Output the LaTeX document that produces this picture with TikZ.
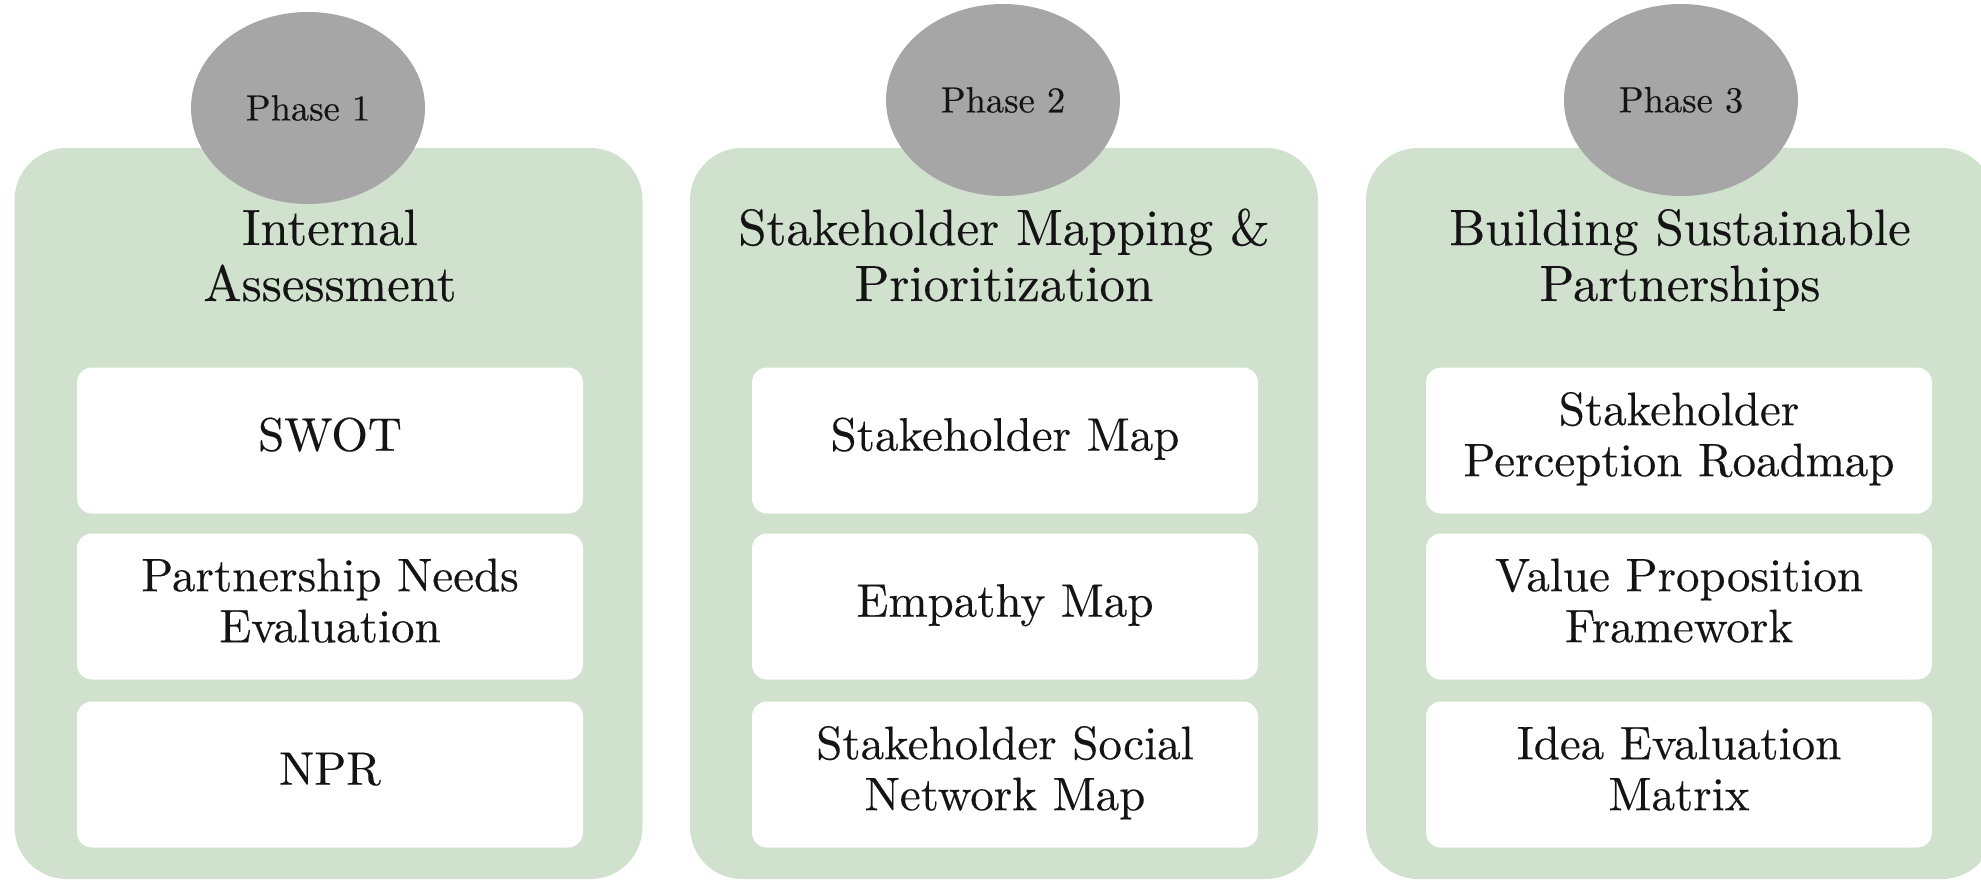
\documentclass[tikz,border=0pt]{standalone}
\usepackage{fontspec}
\setmainfont{lmroman10-regular.otf}[FakeBold=0.3]
\usetikzlibrary{shapes.geometric}
\definecolor{panelgreen}{HTML}{D0E2CE}
\definecolor{phasegrey}{HTML}{A6A6A6}
\definecolor{inktext}{HTML}{141414}
\newcommand{\stack}[1]{\begin{tabular}{@{}c@{}}#1\end{tabular}}
\newcommand{\topstack}[1]{\begin{tabular}[t]{@{}c@{}}#1\end{tabular}}
\tikzset{
  panelbox/.style={rectangle, fill=panelgreen, rounded corners=52pt, minimum width=628pt, minimum height=731pt, inner sep=0pt},
  itembox/.style={rectangle, fill=white, rounded corners=15pt, minimum width=506pt, minimum height=146pt, inner sep=0pt, text=inktext, font=\fontsize{47}{51}\selectfont},
  phasebubble/.style={ellipse, fill=phasegrey, minimum width=234pt, minimum height=192pt, inner sep=0pt, text=inktext, font=\fontsize{36.5}{40}\selectfont},
  titletext/.style={anchor=base, inner sep=0pt, text=inktext, font=\fontsize{51}{56}\selectfont},
}
\begin{document}
\begin{tikzpicture}[x=1pt, y=-1pt]
\useasboundingbox (0,0) rectangle (1981,881);
\clip (0,0) rectangle (1981,881);
% panels
\node[panelbox] (p1) at (328.5,513.5) {};
\node[panelbox] (p2) at (1004,513.5) {};
\node[panelbox] (p3) at (1680,513.5) {};
% phase bubbles
\node[phasebubble] (c1) at (308,108) {Phase 1};
\node[phasebubble] (c2) at (1003,100) {Phase 2};
\node[phasebubble] (c3) at (1681,100) {Phase 3};
% titles
\node[titletext] (t1) at (330,245) {\topstack{Internal\\Assessment}};
\node[titletext] (t2) at (1004,245) {\topstack{Stakeholder Mapping \&\\Prioritization}};
\node[titletext] (t3) at (1680,245) {\topstack{Building Sustainable\\Partnerships}};
% items panel 1
\node[itembox] (b11) at (330,440.5) {\stack{SWOT}};
\node[itembox] (b12) at (330,606.5) {\stack{Partnership Needs\\Evaluation}};
\node[itembox] (b13) at (330,774.5) {\stack{NPR}};
% items panel 2
\node[itembox] (b21) at (1005,440.5) {\stack{Stakeholder Map}};
\node[itembox] (b22) at (1005,606.5) {\stack{Empathy Map}};
\node[itembox] (b23) at (1005,774.5) {\stack{Stakeholder Social\\Network Map}};
% items panel 3
\node[itembox] (b31) at (1679,440.5) {\stack{Stakeholder\\Perception Roadmap}};
\node[itembox] (b32) at (1679,606.5) {\stack{Value Proposition\\Framework}};
\node[itembox] (b33) at (1679,774.5) {\stack{Idea Evaluation\\Matrix}};
\end{tikzpicture}
\end{document}
